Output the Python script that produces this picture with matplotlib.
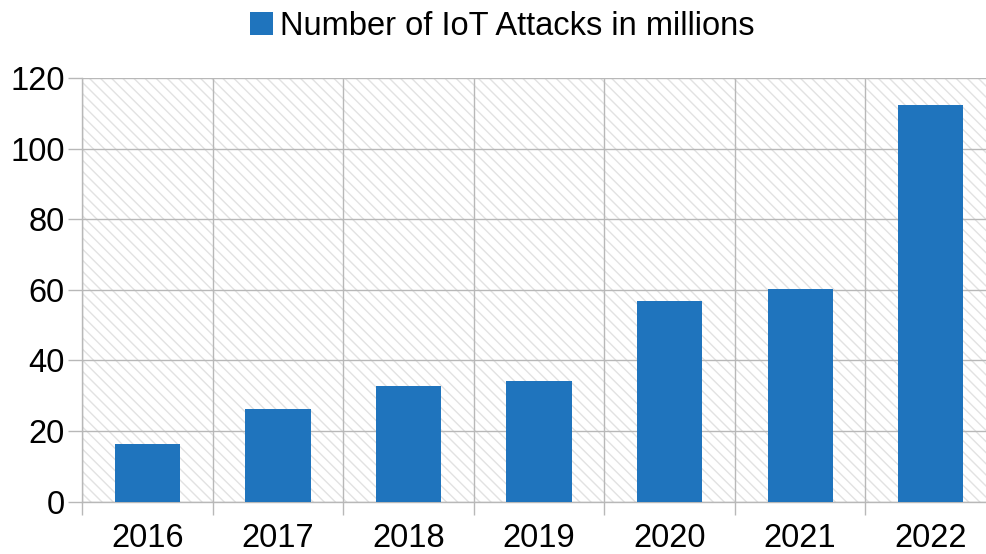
import matplotlib
matplotlib.use("Agg")
import matplotlib.pyplot as plt
from matplotlib.patches import Rectangle, Patch

# ─── Data ────────────────────────────────────────────────────────────────────

years   = ["2016", "2017", "2018", "2019", "2020", "2021", "2022"]
attacks = [16.3, 26.3, 32.7, 34.1, 56.8, 60.2, 112.3]
y_ticks = [0, 20, 40, 60, 80, 100, 120]

bar_color  = "#1f74bd"
grid_color = "#b8b8b8"

plt.rcParams["font.family"] = ["Liberation Sans", "DejaVu Sans"]
plt.rcParams["hatch.linewidth"] = 1.0

# ─── Figure ──────────────────────────────────────────────────────────────────

fig = plt.figure(figsize=(9.86, 5.54), dpi=100)
ax = fig.add_axes([82 / 986, 52.5 / 554, 914 / 986, 423.5 / 554])

# hatched wall behind the bars
ax.add_patch(Rectangle((0, 0), 1, 1, transform=ax.transAxes,
                       facecolor="white", edgecolor="#e2e2e2",
                       hatch="\\\\\\", lw=0, zorder=0))

x = range(len(years))
ax.bar(x, attacks, width=0.5, color=bar_color, zorder=3)

ax.set_xlim(-0.5, len(years) - 0.5)
ax.set_ylim(0, 120)

# y axis
ax.set_yticks(y_ticks)
ax.tick_params(axis="y", length=10, width=1, color=grid_color,
               labelsize=23.5, pad=2.5)

# x axis: labels at bar centres, tick marks between categories
ax.set_xticks(list(x))
ax.set_xticklabels(years)
ax.set_xticks([i - 0.5 for i in range(len(years) + 1)], minor=True)
ax.tick_params(axis="x", which="major", length=0, labelsize=23.5, pad=15.5)
ax.tick_params(axis="x", which="minor", length=9, width=1, color=grid_color)

ax.grid(axis="y", which="major", color=grid_color, lw=1, zorder=1)
ax.grid(axis="x", which="minor", color=grid_color, lw=1, zorder=1)
ax.set_axisbelow(True)

for side in ["top", "right"]:
    ax.spines[side].set_visible(False)
for side in ["left", "bottom"]:
    ax.spines[side].set_color(grid_color)
    ax.spines[side].set_linewidth(1)

# ─── Legend ──────────────────────────────────────────────────────────────────

handle = Patch(facecolor=bar_color, edgecolor="none")
fig.legend([handle], ["Number of IoT Attacks in millions"],
           loc="upper center", bbox_to_anchor=(502 / 986, 1.004),
           frameon=False, fontsize=23.5, handlelength=0.72, handleheight=0.72,
           handletextpad=0.2, borderaxespad=0.0)

fig.savefig("out.png", dpi=100)
